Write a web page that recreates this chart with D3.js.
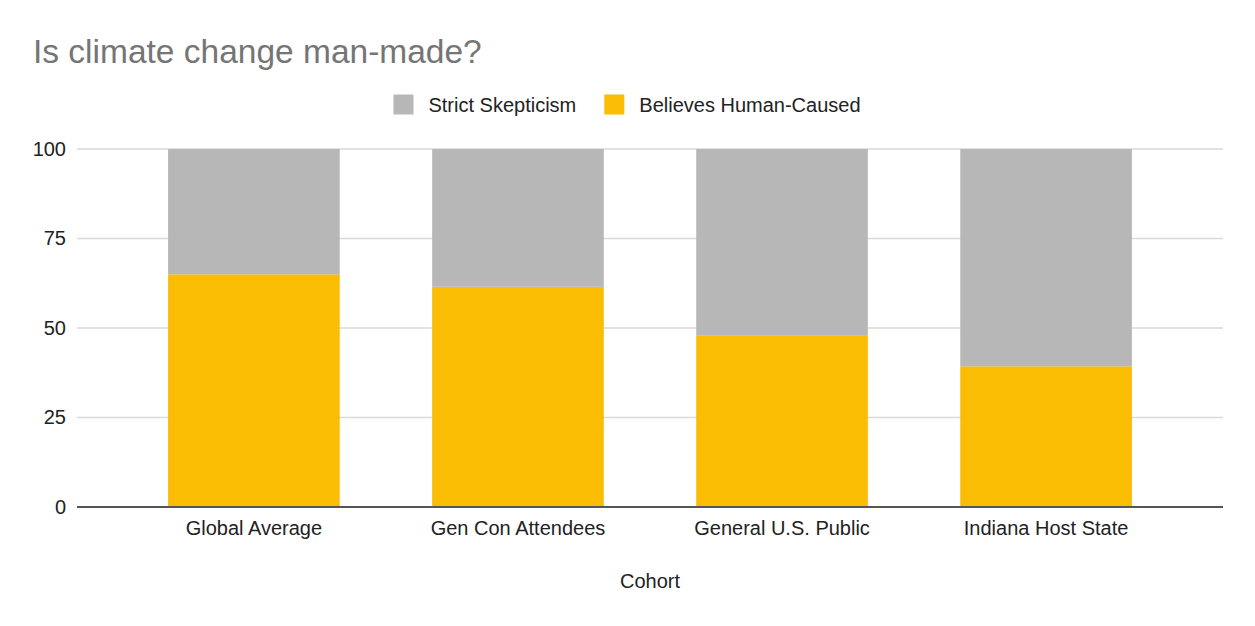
<!DOCTYPE html>
<html>
<head>
<meta charset="utf-8">
<script src="https://cdn.jsdelivr.net/npm/d3@7"></script>
<style>
  html, body { margin: 0; padding: 0; background: #fff; }
  svg { display: block; font-family: Arial, "Liberation Sans", sans-serif; }
</style>
</head>
<body>
<svg id="chart" width="1255" height="626"></svg>
<script>
const categories = ["Global Average", "Gen Con Attendees", "General U.S. Public", "Indiana Host State"];
const seriesNames = ["Believes Human-Caused", "Strict Skepticism"];
const believes = [65, 61.5, 48, 39.3];
const skepticism = [35, 38.5, 52, 60.7];
const yTicks = [0, 25, 50, 75, 100];
const legendOrder = ["Strict Skepticism", "Believes Human-Caused"];
const colors = { "Strict Skepticism": "#b7b7b7", "Believes Human-Caused": "#fbbc04" };

const W = 1255, H = 626;
const margin = { left: 77, right: 32, top: 149, bottom: 119 };
const svg = d3.select("#chart");

const x = d3.scaleBand()
  .domain(categories)
  .range([margin.left, W - margin.right])
  .paddingInner(0.35)
  .paddingOuter(0.345);

const y = d3.scaleLinear()
  .domain([0, 100])
  .range([H - margin.bottom, margin.top]);

// Title
svg.append("text")
  .attr("x", 33)
  .attr("y", 63)
  .attr("fill", "#757575")
  .attr("font-size", 33.5)
  .text("Is climate change man-made?");

// Legend
const legendG = svg.append("g");
let lx = 0;
const legendItems = [];
legendOrder.forEach(name => {
  const g = legendG.append("g").attr("transform", `translate(${lx},0)`);
  g.append("rect").attr("x", 0).attr("y", -10).attr("width", 20).attr("height", 20)
    .attr("fill", colors[name]);
  const t = g.append("text").attr("x", 35).attr("y", 7).attr("font-size", 20)
    .attr("fill", "#222").text(name);
  const tw = t.node().getComputedTextLength();
  lx += 35 + tw + 28;
});
const legendW = lx - 28;
legendG.attr("transform", `translate(${627 - legendW / 2},104.5)`);

// Gridlines
const grid = svg.append("g");
grid.selectAll("line")
  .data(yTicks.filter(d => d !== 0))
  .join("line")
  .attr("x1", margin.left).attr("x2", W - margin.right)
  .attr("y1", d => y(d)).attr("y2", d => y(d))
  .attr("stroke", "#d9d9d9").attr("stroke-width", 1.5);

// Y axis labels
const yAxis = d3.axisLeft(y).tickValues(yTicks).tickSize(0).tickPadding(11);
const yg = svg.append("g").attr("transform", `translate(${margin.left},0)`).call(yAxis);
yg.select(".domain").remove();
yg.selectAll("text").attr("font-size", 20).attr("fill", "#222")
  .attr("font-family", 'Arial, "Liberation Sans", sans-serif');

// Stacked bars
const table = categories.map((c, i) => ({
  cohort: c,
  "Believes Human-Caused": believes[i],
  "Strict Skepticism": skepticism[i]
}));
const stack = d3.stack().keys(seriesNames)(table);

svg.append("g").selectAll("g")
  .data(stack)
  .join("g")
  .attr("fill", d => colors[d.key])
  .selectAll("rect")
  .data(d => d)
  .join("rect")
  .attr("x", d => x(d.data.cohort))
  .attr("width", x.bandwidth())
  .attr("y", d => y(d[1]))
  .attr("height", d => y(d[0]) - y(d[1]));

// Baseline (0)
svg.append("line")
  .attr("x1", margin.left).attr("x2", W - margin.right)
  .attr("y1", y(0)).attr("y2", y(0))
  .attr("stroke", "#555").attr("stroke-width", 2);

// X axis labels
const xAxis = d3.axisBottom(x).tickSize(0).tickPadding(14);
const xg = svg.append("g").attr("transform", `translate(0,${y(0)})`).call(xAxis);
xg.select(".domain").remove();
xg.selectAll("text").attr("font-size", 20).attr("fill", "#222")
  .attr("font-family", 'Arial, "Liberation Sans", sans-serif');

// X axis title
svg.append("text")
  .attr("x", (margin.left + W - margin.right) / 2)
  .attr("y", 588)
  .attr("text-anchor", "middle")
  .attr("font-size", 20)
  .attr("fill", "#222")
  .text("Cohort");
</script>
</body>
</html>
